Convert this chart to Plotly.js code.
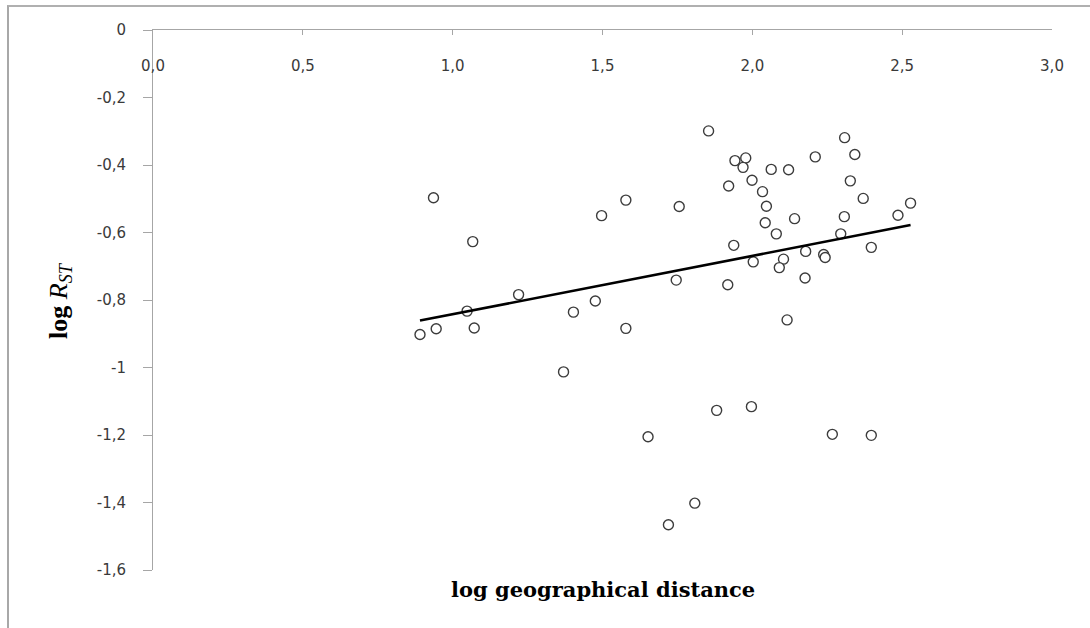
<!DOCTYPE html>
<html>
<head>
<meta charset="utf-8">
<script src="https://cdn.plot.ly/plotly-3.0.1.min.js"></script>
<style>
  html, body { margin: 0; padding: 0; background: #ffffff; }
  #wrap { position: relative; width: 1090px; height: 628px; overflow: hidden; }
  #chart { position: absolute; left: 0; top: 0; width: 1090px; height: 628px; }
  #frame { position: absolute; left: 7px; top: 5px; width: 1090px; height: 640px;
           border-left: 2px solid #a8a8a8; border-top: 2px solid #b0b0b0; pointer-events: none; }
</style>
</head>
<body>
<div id="wrap">
  <div id="chart"></div>
  <div id="frame"></div>
</div>
<script>
// log geographical distance (x) and log R_ST (y)
const logDistance = [
  0.936, 1.067, 1.220, 1.048, 0.891, 0.945, 1.072, 1.370, 1.403, 1.497,
  1.756, 2.047, 2.043, 2.080, 1.938, 2.003, 2.104, 2.090, 1.746, 1.918,
  1.476, 1.578, 1.881, 1.997, 1.854, 1.578, 2.308, 2.342, 1.942, 1.978,
  1.969, 2.210, 2.063, 2.121, 1.999, 1.921, 2.327, 2.034, 2.370, 2.528,
  2.141, 2.307, 2.486, 2.295, 2.397, 2.178, 2.238, 2.243, 2.176, 2.116,
  1.652, 2.267, 2.397, 1.808, 1.720
];
const logRst = [
  -0.497, -0.627, -0.784, -0.833, -0.902, -0.885, -0.883, -1.013, -0.836, -0.550,
  -0.523, -0.522, -0.571, -0.604, -0.638, -0.687, -0.679, -0.704, -0.741, -0.755,
  -0.803, -0.884, -1.127, -1.116, -0.299, -0.504, -0.319, -0.369, -0.387, -0.379,
  -0.407, -0.376, -0.413, -0.414, -0.445, -0.462, -0.447, -0.479, -0.499, -0.513,
  -0.559, -0.553, -0.549, -0.604, -0.644, -0.656, -0.665, -0.674, -0.735, -0.859,
  -1.205, -1.198, -1.201, -1.402, -1.466
];
// linear trend line end points
const trendX = [0.891, 2.528];
const trendY = [-0.861, -0.578];

const xTickVals = [0, 0.5, 1, 1.5, 2, 2.5, 3];
const xTickText = ['0,0', '0,5', '1,0', '1,5', '2,0', '2,5', '3,0'];
const yTickVals = [0, -0.2, -0.4, -0.6, -0.8, -1, -1.2, -1.4, -1.6];
const yTickText = ['0', '-0,2', '-0,4', '-0,6', '-0,8', '-1', '-1,2', '-1,4', '-1,6'];

const tickFont = { family: 'DejaVu Sans, sans-serif', size: 15, color: '#3a3a3a' };

const data = [
  {
    x: logDistance, y: logRst, type: 'scatter', mode: 'markers',
    marker: { symbol: 'circle', size: 10, color: '#ffffff',
              line: { color: '#3c3c3c', width: 1.4 } },
    hoverinfo: 'x+y', showlegend: false
  },
  {
    x: trendX, y: trendY, type: 'scatter', mode: 'lines',
    line: { color: '#000000', width: 2.6 },
    hoverinfo: 'skip', showlegend: false
  }
];

const layout = {
  width: 1090, height: 628,
  margin: { l: 153, r: 38.4, t: 30, b: 58, pad: 0 },
  paper_bgcolor: '#ffffff', plot_bgcolor: '#ffffff',
  showlegend: false,
  xaxis: {
    range: [0, 3], side: 'top', showgrid: false, zeroline: false,
    showline: true, linecolor: '#a6a6a6', linewidth: 1,
    ticks: 'inside', ticklen: 5, tickcolor: '#a6a6a6', tickwidth: 1,
    tickmode: 'array', tickvals: xTickVals, ticktext: xTickText,
    ticklabelposition: 'inside', ticklabeloverflow: 'allow',
    ticklabelstandoff: 25,
    tickfont: tickFont, automargin: false, fixedrange: true
  },
  yaxis: {
    range: [-1.6, 0], showgrid: false, zeroline: false,
    showline: true, linecolor: '#a6a6a6', linewidth: 1,
    ticks: 'outside', ticklen: 9, tickcolor: '#a6a6a6', tickwidth: 1,
    tickmode: 'array', tickvals: yTickVals, ticktext: yTickText,
    ticklabelstandoff: 14,
    tickfont: tickFont, automargin: false, fixedrange: true
  },
  annotations: [
    {
      xref: 'paper', yref: 'paper', x: 0.5, y: -0.037,
      xanchor: 'center', yanchor: 'middle', showarrow: false,
      text: '<b>log geographical distance</b>',
      font: { family: 'DejaVu Serif, serif', size: 21, color: '#000000' }
    },
    {
      xref: 'paper', yref: 'paper', x: -0.1035, y: 0.5,
      xanchor: 'center', yanchor: 'middle', showarrow: false, textangle: -90,
      text: '<b>log</b> <i>R<sub>ST</sub></i>',
      font: { family: 'Liberation Serif, serif', size: 26, color: '#000000' }
    }
  ]
};

Plotly.newPlot('chart', data, layout, { displayModeBar: false, staticPlot: false });
</script>
</body>
</html>
